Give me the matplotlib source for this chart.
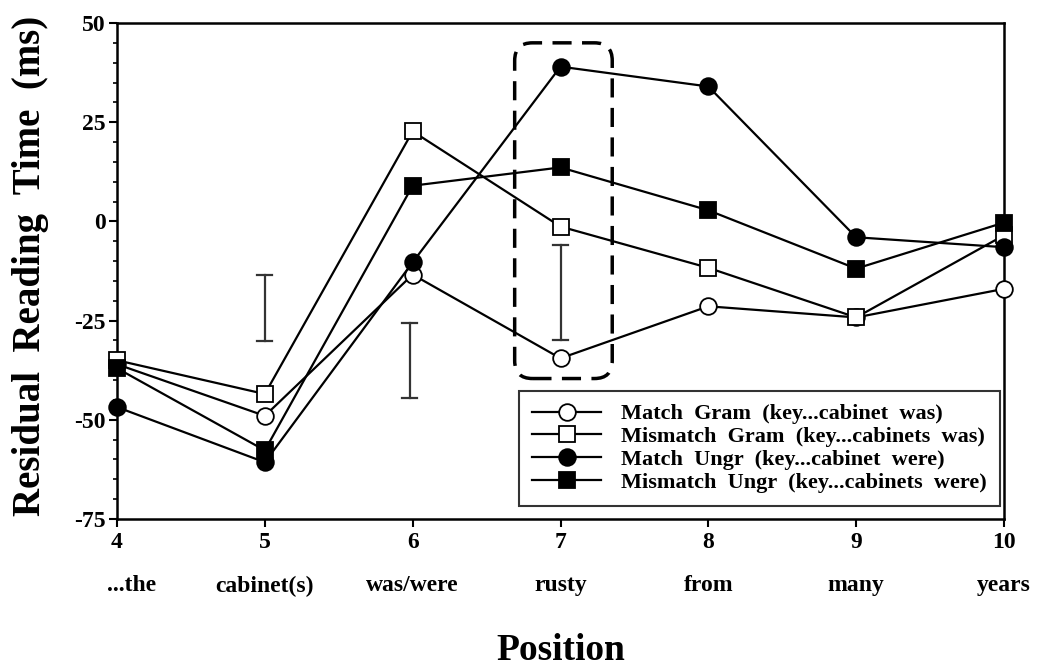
import numpy as np
import matplotlib
matplotlib.use("Agg")
import matplotlib.pyplot as plt
from matplotlib.patches import FancyBboxPatch
from matplotlib.ticker import MultipleLocator

# posizioni e parole della frase
posizioni = [4, 5, 6, 7, 8, 9, 10]
parole = ["...the", "cabinet(s)", "was/were", "rusty", "from", "many", "years"]

# tempi residui (ms)
match_gram = [-36, -49, -13.4, -34.5, -21.4, -24.2, -17]
mismatch_gram = [-35, -43.5, 22.7, -1.3, -11.7, -24.2, -3.5]
match_ungr = [-46.8, -60.7, -10.3, 39, 34, -4, -6.5]
mismatch_ungr = [-37, -57.7, 9, 13.6, 2.8, -11.9, -0.3]

# barre d'errore isolate
err_x = [5, 5.98, 7]
err_lo = [-30.2, -44.4, -29.8]
err_hi = [-13.6, -25.5, -6]

plt.rcParams['font.family'] = ['Liberation Serif', 'DejaVu Serif']
plt.rcParams['font.weight'] = 'bold'
plt.rcParams['axes.unicode_minus'] = False

fig = plt.figure(figsize=(10.39, 6.71), dpi=100)
ax = fig.add_axes([117 / 1039, 1 - 519 / 671, (1004 - 117) / 1039, (519 - 23) / 671])

serie = [
    (match_gram, 'o', 'white', "Match  Gram  (key...cabinet  was)"),
    (mismatch_gram, 's', 'white', "Mismatch  Gram  (key...cabinets  was)"),
    (match_ungr, 'o', 'black', "Match  Ungr  (key...cabinet  were)"),
    (mismatch_ungr, 's', 'black', "Mismatch  Ungr  (key...cabinets  were)"),
]
for valori, marker, fc, etichetta in serie:
    ax.plot(posizioni, valori, marker=marker, color='black', mfc=fc, mec='black',
            lw=1.6, ms=12 if marker == 'o' else 11.5, mew=1.3, label=etichetta, clip_on=False, zorder=3)

# barre d'errore
for x, lo, hi in zip(err_x, err_lo, err_hi):
    ax.plot([x, x], [lo, hi], color='#333333', lw=1.6)
    for y in (lo, hi):
        ax.plot([x - 0.05, x + 0.05], [y, y], color='#333333', lw=1.6)

# riquadro tratteggiato attorno a "rusty"
asp = (147.8 / 3.968)
box = FancyBboxPatch((6.69, -39.6), 0.66, 84.6,
                     boxstyle="round,pad=0,rounding_size=0.12", mutation_aspect=asp,
                     fill=False, ec='black', lw=2.5, ls=(0, (5.5, 3)), zorder=2)
ax.add_patch(box)

ax.set_xlim(4, 10)
ax.set_ylim(-75, 50)
ax.set_xticks(posizioni)
ax.set_yticks([-75, -50, -25, 0, 25, 50])
ax.yaxis.set_minor_locator(MultipleLocator(5))
ax.tick_params(axis='both', which='major', labelsize=17, length=6, width=1.5, direction='out')
ax.tick_params(axis='x', which='major', pad=3)
ax.tick_params(axis='y', which='major', pad=2)
ax.tick_params(axis='y', which='minor', length=3, width=1.2)
for s in ax.spines.values():
    s.set_linewidth(1.8)

for x, p in zip(posizioni, parole):
    xx = 4.1 if x == 4 else x
    ax.text(xx, -0.135, p, transform=ax.get_xaxis_transform(), ha='center', va='center',
            fontsize=17, fontweight='bold')

ax.set_xlabel("Position", fontsize=27, fontweight='bold', labelpad=58)
ax.set_ylabel("Residual  Reading  Time  (ms)", fontsize=28, fontweight='bold')
ax.yaxis.set_label_coords(-0.077, 0.51)

leg = ax.legend(loc='lower right', bbox_to_anchor=(0.996, 0.026), fontsize=16, frameon=True,
                fancybox=False, edgecolor='black', handlelength=3.1, borderpad=0.6,
                labelspacing=0.1, handletextpad=0.9, borderaxespad=0)
leg.get_frame().set_linewidth(1.5)

fig.savefig("out.png", dpi=100, facecolor='white')
